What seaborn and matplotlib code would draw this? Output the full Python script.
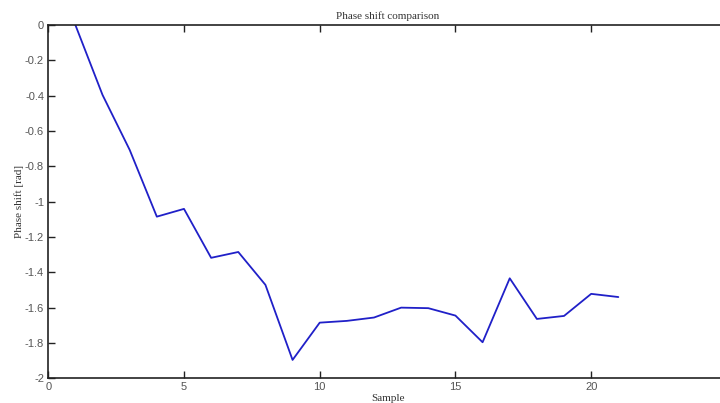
import numpy as np
import pandas as pd
import seaborn as sns
import matplotlib
matplotlib.use("Agg")
import matplotlib.pyplot as plt

# Datos
muestras = list(range(1, 22))
fase = [0.0, -0.396, -0.707, -1.085, -1.041, -1.318, -1.285, -1.471, -1.896,
        -1.685, -1.675, -1.656, -1.600, -1.603, -1.645, -1.796, -1.434,
        -1.664, -1.647, -1.522, -1.540]
xticks = [0, 5, 10, 15, 20]
yticks = [0, -0.2, -0.4, -0.6, -0.8, -1, -1.2, -1.4, -1.6, -1.8, -2]

df = pd.DataFrame({"Sample": muestras, "Phase": fase})

sns.set_style("ticks")
plt.rcParams["font.family"] = ["Liberation Sans", "DejaVu Sans"]

fig = plt.figure(figsize=(7.2, 4.03), dpi=100)
ax = fig.add_axes([0.067, 0.0613, 0.9426, 0.8767])

sns.lineplot(data=df, x="Sample", y="Phase", color="#2020c8", linewidth=1.3, ax=ax)

ax.set_xlim(0, 25)
ax.set_ylim(-2, 0)
ax.set_xticks(xticks)
ax.set_yticks(yticks)
ax.set_yticklabels([f"{t:g}" for t in yticks])
ax.tick_params(direction="in", top=True, length=5, width=1,
               labelsize=8, labelcolor="#555555", color="#222222", pad=3)
for s in ax.spines.values():
    s.set_linewidth(1.2)
    s.set_color("#222222")

ax.set_title("Phase shift comparison", family="Liberation Serif", fontsize=8,
             color="#333333", pad=4)
ax.set_xlabel("Sample", family="Liberation Serif", fontsize=8, color="#333333", labelpad=1)
ax.set_ylabel("Phase shift [rad]", family="Liberation Serif", fontsize=8, color="#333333")
# etiqueta del eje Y pegada a los números, como en la original
ax.yaxis.set_label_coords(-0.036, 0.5)

fig.savefig("out.png", dpi=100)
